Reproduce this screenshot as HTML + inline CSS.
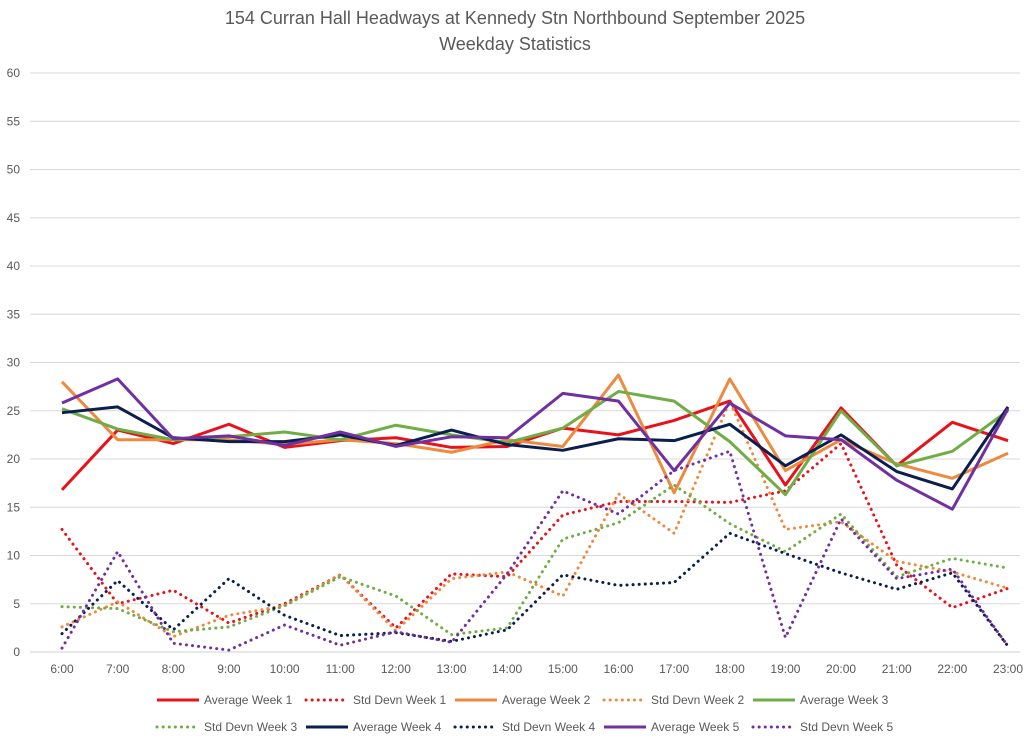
<!DOCTYPE html>
<html><head><meta charset="utf-8"><style>
body{margin:0;background:#fff;font-family:"Liberation Sans",Arial,sans-serif}
</style></head><body>
<svg id="chart" width="1024" height="739" xmlns="http://www.w3.org/2000/svg">
<text x="515" y="24" text-anchor="middle" font-size="18" fill="#595959">154 Curran Hall Headways at Kennedy Stn Northbound September 2025</text>
<text x="515" y="50" text-anchor="middle" font-size="18" fill="#595959">Weekday Statistics</text>
<g id="grid"></g><g id="series"></g><g id="legend"></g>
</svg>
<script>
const hours=["6:00","7:00","8:00","9:00","10:00","11:00","12:00","13:00","14:00","15:00","16:00","17:00","18:00","19:00","20:00","21:00","22:00","23:00"];
const yTicks=[0,5,10,15,20,25,30,35,40,45,50,55,60];
const avgW1=[16.8,23.0,21.6,23.6,21.2,21.9,22.2,21.2,21.3,23.2,22.5,24.0,26.0,17.3,25.3,19.3,23.8,21.9];
const avgW2=[28.0,22.0,22.0,22.0,21.5,22.0,21.6,20.7,22.0,21.3,28.7,16.5,28.3,18.8,22.0,19.5,18.0,20.6];
const avgW3=[25.2,23.1,22.0,22.3,22.8,22.0,23.5,22.5,21.7,23.2,27.0,26.0,21.8,16.3,25.0,19.3,20.8,25.0];
const avgW4=[24.8,25.4,22.2,21.8,21.8,22.5,21.4,23.0,21.5,20.9,22.1,21.9,23.6,19.3,22.5,18.7,16.9,25.4];
const avgW5=[25.8,28.3,22.1,22.4,21.4,22.8,21.3,22.3,22.2,26.8,26.0,18.8,25.8,22.4,22.0,17.8,14.8,25.2];
const sdW1=[12.7,5.0,6.4,3.0,5.0,8.0,2.5,8.1,7.8,14.2,15.6,15.6,15.5,16.7,21.6,9.0,4.6,6.6];
const sdW2=[2.6,5.2,1.6,3.8,4.8,8.0,2.2,7.6,8.3,5.8,16.4,12.3,26.0,12.7,13.5,9.4,8.3,6.6];
const sdW3=[4.7,4.5,2.1,2.6,4.8,7.8,5.8,1.8,2.5,11.7,13.4,17.3,13.3,10.4,14.3,7.8,9.7,8.7];
const sdW4=[1.9,7.4,2.3,7.6,3.8,1.7,2.0,1.1,2.3,8.0,6.9,7.2,12.3,10.2,8.2,6.5,8.2,0.6];
const sdW5=[0.4,10.4,0.9,0.2,2.8,0.7,2.1,1.0,8.1,16.7,14.3,18.8,20.8,1.5,13.8,7.6,8.6,0.6];
const seriesList=[
 {name:"Average Week 1",d:avgW1,c:"#e8121b",dot:false},
 {name:"Std Devn Week 1",d:sdW1,c:"#e8121b",dot:true},
 {name:"Average Week 2",d:avgW2,c:"#ed8a3f",dot:false},
 {name:"Std Devn Week 2",d:sdW2,c:"#ed8a3f",dot:true},
 {name:"Average Week 3",d:avgW3,c:"#70ad47",dot:false},
 {name:"Std Devn Week 3",d:sdW3,c:"#70ad47",dot:true},
 {name:"Average Week 4",d:avgW4,c:"#0b1f4f",dot:false},
 {name:"Std Devn Week 4",d:sdW4,c:"#0b1f4f",dot:true},
 {name:"Average Week 5",d:avgW5,c:"#7030a0",dot:false},
 {name:"Std Devn Week 5",d:sdW5,c:"#7030a0",dot:true}];
const NS="http://www.w3.org/2000/svg";
const X0=62,XS=(1008-62)/17,Y0=652,YS=(652-73)/60;
const xs=i=>X0+i*XS, ys=v=>Y0-v*YS;
function mk(t,a,p){const e=document.createElementNS(NS,t);for(const k in a)e.setAttribute(k,a[k]);p.appendChild(e);return e;}
const grid=document.getElementById('grid');
yTicks.forEach(v=>{
 const l=mk('line',{x1:30,x2:1020,y1:ys(v),y2:ys(v),stroke:v===0?'#d0d0d0':'#d9d9d9','stroke-width':1},grid);
 
 
 const t=mk('text',{x:20,y:ys(v)+4,'text-anchor':'end','font-size':12,fill:'#595959'},grid);t.textContent=v;
 
 
});
hours.forEach((h,i)=>{
 const t=mk('text',{x:xs(i),y:673,'text-anchor':'middle','font-size':12,fill:'#595959'},grid);t.textContent=h;
 
 
});
const sg=document.getElementById('series');
seriesList.forEach(s=>{
 const p=mk('polyline',{points:s.d.map((v,i)=>xs(i)+','+ys(v)).join(' '),fill:'none',stroke:s.c,'stroke-width':3,'stroke-linejoin':'round'},sg);
 if(s.dot){p.setAttribute('stroke-dasharray','0.1 6');p.setAttribute('stroke-linecap','round');}
 
 
});
const lg=document.getElementById('legend');
seriesList.forEach((s,i)=>{
 const r=Math.floor(i/5),c=i%5;const x=157+c*149,y=700+r*27;
 const g=mk('g',{},lg);
 
 
 const l=mk('line',{x1:x,x2:x+42,y1:y,y2:y,stroke:s.c,'stroke-width':3},g);
 if(s.dot){l.setAttribute('stroke-dasharray','0.1 6');l.setAttribute('stroke-linecap','round');}
 const t=mk('text',{x:x+47,y:y+4,'font-size':12,fill:'#595959'},g);t.textContent=s.name;
});
</script>
</body></html>
